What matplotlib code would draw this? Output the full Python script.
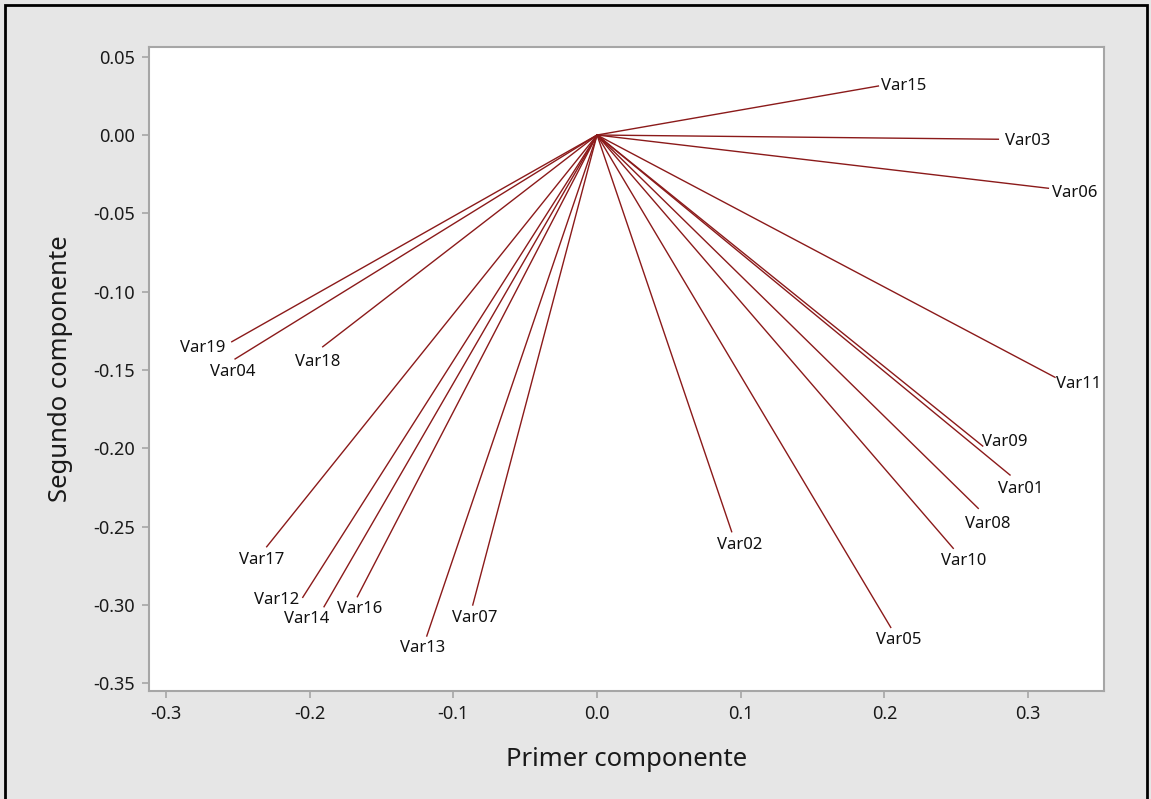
import matplotlib
matplotlib.use("Agg")
import matplotlib.pyplot as plt
from matplotlib.patches import Rectangle

# cargas de las variables en las dos primeras componentes
variables = ["Var01", "Var02", "Var03", "Var04", "Var05", "Var06", "Var07",
             "Var08", "Var09", "Var10", "Var11", "Var12", "Var13", "Var14",
             "Var15", "Var16", "Var17", "Var18", "Var19"]
pc1 = [0.2874, 0.0937, 0.2793, -0.2519, 0.2044, 0.3141, -0.0865,
       0.2653, 0.2684, 0.2479, 0.3187, -0.2048, -0.1185, -0.1900,
       0.1958, -0.1668, -0.2299, -0.1909, -0.2542]
pc2 = [-0.2171, -0.2533, -0.0027, -0.1430, -0.3144, -0.0340, -0.3001,
       -0.2384, -0.1986, -0.2639, -0.1547, -0.2952, -0.3199, -0.3012,
       0.0313, -0.2948, -0.2629, -0.1352, -0.1320]

x_ticks = [-0.3, -0.2, -0.1, 0.0, 0.1, 0.2, 0.3]
y_ticks = [0.05, 0.00, -0.05, -0.10, -0.15, -0.20, -0.25, -0.30, -0.35]

# desplazamiento de cada etiqueta (pixeles) respecto al extremo de la linea
label_offsets = {
    "Var01": (11, -14), "Var02": (8, -13), "Var03": (29, -2), "Var04": (-2, -13),
    "Var05": (8, -13), "Var06": (26, -5), "Var07": (2, -13), "Var08": (9, -16),
    "Var09": (22, 4), "Var10": (10, -13), "Var11": (24, -7), "Var12": (-26, -3),
    "Var13": (-4, -12), "Var14": (-17, -12), "Var15": (25, 0), "Var16": (2, -12),
    "Var17": (-5, -13), "Var18": (-5, -15), "Var19": (-29, -6),
}

plt.rcParams['font.family'] = ['Noto Sans', 'DejaVu Sans']

fig = plt.figure(figsize=(11.51, 7.99), dpi=100, facecolor='#e6e6e6')
ax = fig.add_axes([149 / 1151, 1 - 691 / 799, 955 / 1151, 644 / 799])
ax.set_facecolor('white')

for name, x, y in zip(variables, pc1, pc2):
    ax.plot([0, x], [0, y], color='#8b1a1a', lw=1.0)
    dx, dy = label_offsets[name]
    ax.annotate(name, (x, y), xytext=(dx, dy), textcoords='offset pixels',
                ha='center', va='center', fontsize=12, color='#111111')

ax.set_xlim(-0.3118, 0.3528)
ax.set_ylim(-0.355, 0.0562)
ax.set_xticks(x_ticks)
ax.set_xticklabels([f"{v:.1f}" for v in x_ticks])
ax.set_yticks(y_ticks)
ax.set_yticklabels([f"{v:.2f}" for v in y_ticks])

for s in ax.spines.values():
    s.set_color('#a6a6a6')
    s.set_linewidth(1.5)
ax.tick_params(colors='#a6a6a6', labelcolor='#1a1a1a', labelsize=13,
               length=5, width=1.2, pad=5)

ax.set_xlabel('Primer componente', fontsize=18.5, color='#1a1a1a', labelpad=17)
ax.set_ylabel('Segundo componente', fontsize=18.5, color='#1a1a1a', labelpad=15)

fig.patches.append(Rectangle((5 / 1151, -0.02), 1142 / 1151, 1.02 - 5 / 799,
                             transform=fig.transFigure, fill=False,
                             edgecolor='black', lw=2))

fig.savefig('out.png', dpi=100, facecolor=fig.get_facecolor())
